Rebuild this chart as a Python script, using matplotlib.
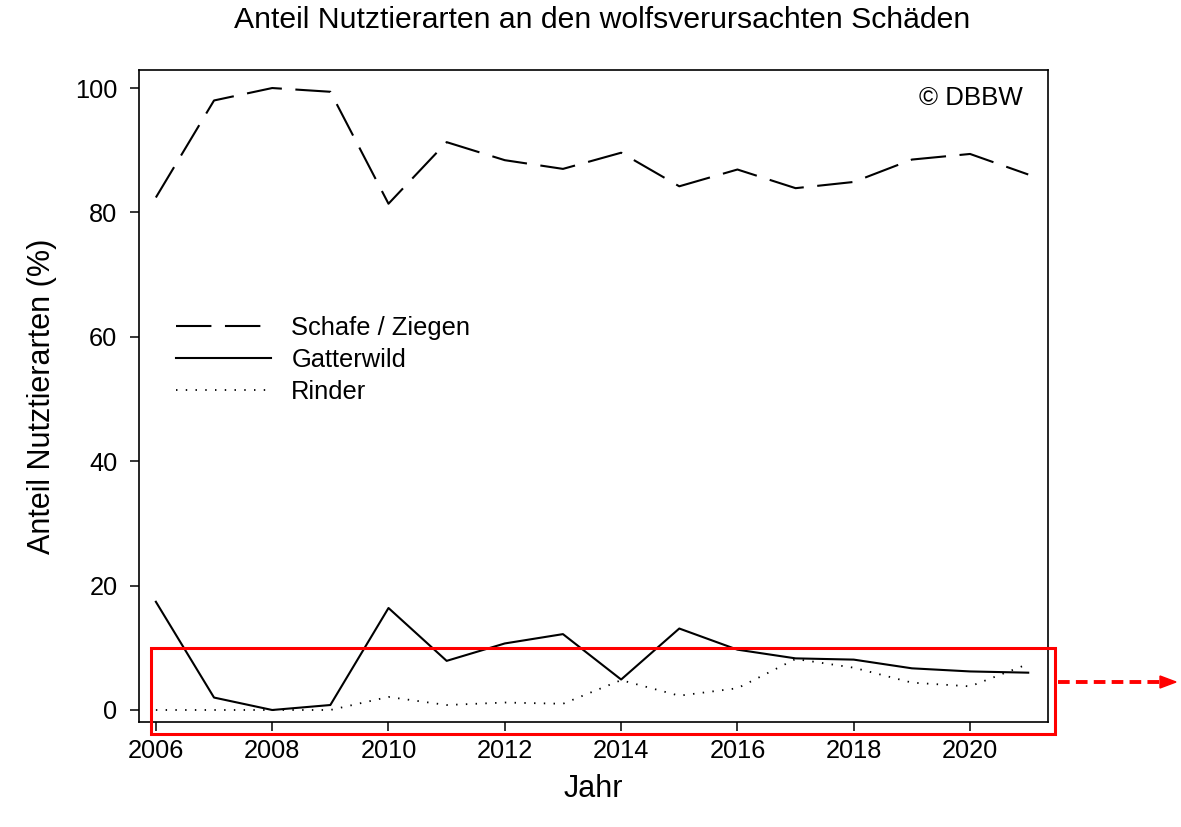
import matplotlib.pyplot as plt
from matplotlib.patches import Rectangle
from matplotlib.lines import Line2D

plt.rcParams['font.family'] = ['Liberation Sans', 'DejaVu Sans']

jahre = [2006, 2007, 2008, 2009, 2010, 2011, 2012, 2013,
         2014, 2015, 2016, 2017, 2018, 2019, 2020, 2021]
schafe = [82.4, 98.0, 100.0, 99.4, 81.4, 91.3, 88.4, 87.0,
          89.6, 84.2, 86.9, 83.9, 84.9, 88.5, 89.4, 86.1]
gatterwild = [17.4, 2.0, 0.0, 0.8, 16.4, 7.9, 10.7, 12.2,
              4.9, 13.1, 9.7, 8.3, 8.1, 6.7, 6.2, 6.0]
rinder = [0.0, 0.0, 0.0, 0.0, 2.1, 0.8, 1.2, 1.0,
          4.8, 2.3, 3.5, 8.2, 6.8, 4.4, 3.8, 7.4]

x_ticks = [2006, 2008, 2010, 2012, 2014, 2016, 2018, 2020]
y_ticks = [0, 20, 40, 60, 80, 100]

W, H = 1181, 827
fig = plt.figure(figsize=(W / 100, H / 100), dpi=100)
ax = fig.add_axes([139 / W, 1 - 722 / H, (1048 - 139) / W, (722 - 70) / H])

ax.plot(jahre, schafe, color='k', lw=1.5, dashes=(17, 6.5), label='Schafe / Ziegen')
ax.plot(jahre, gatterwild, color='k', lw=1.5, label='Gatterwild')
ax.plot(jahre, rinder, color='k', lw=1.3, linestyle=(0, (0.8, 4.6)), label='Rinder')

ax.set_xlim(2005.71, 2021.34)
ax.set_ylim(-1.93, 102.9)
ax.set_xticks(x_ticks)
ax.set_yticks(y_ticks)
ax.tick_params(direction='out', length=6.5, width=1.1, labelsize=18.3, pad=6)
ax.tick_params(axis='y', pad=9)
for s in ax.spines.values():
    s.set_linewidth(1.2)

ax.set_xlabel('Jahr', fontsize=22, labelpad=8)
ax.set_ylabel('Anteil Nutztierarten (%)', fontsize=22, labelpad=13)
ax.set_title('Anteil Nutztierarten an den wolfsverursachten Schäden', fontsize=21.7,
             pad=30, x=0.509)

ax.text(0.9725, 0.975, '© DBBW', transform=ax.transAxes, ha='right', va='top', fontsize=18.6)

ax.legend(loc='upper left', bbox_to_anchor=(0.027, 0.642), frameon=False,
          fontsize=18.4, handlelength=3.7, handletextpad=0.8, labelspacing=0.3,
          borderpad=0)

# red highlight box and arrow (figure pixels)
fig.patches.append(Rectangle((151 / W, 1 - 734 / H), (1055 - 151) / W, (734 - 648) / H,
                             transform=fig.transFigure, fill=False, ec='#ff0000', lw=2.2))
fig.lines.append(Line2D([1058 / W, 1160 / W], [1 - 682 / H, 1 - 682 / H],
                        transform=fig.transFigure, color='#ff0000', lw=2.8,
                        linestyle=(0, (3, 1.6))))
fig.patches.append(plt.Polygon([[1160 / W, 1 - 676 / H], [1176 / W, 1 - 682 / H],
                                [1160 / W, 1 - 688 / H]], closed=True,
                               transform=fig.transFigure, color='#ff0000'))

fig.savefig('out.png', dpi=100)
